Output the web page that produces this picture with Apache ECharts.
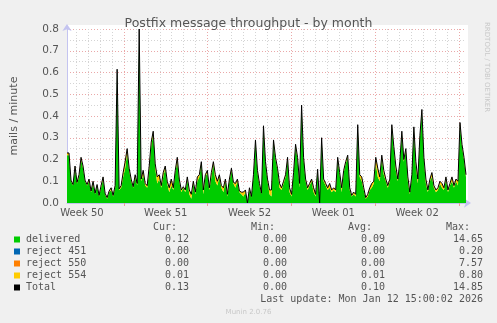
<!DOCTYPE html>
<html>
<head>
<meta charset="utf-8">
<script src="https://cdn.jsdelivr.net/npm/echarts@6/dist/echarts.min.js"></script>
<style>
html,body{margin:0;padding:0;background:#f0f0f0;}
#chart{width:497px;height:323px;}
</style>
</head>
<body>
<div id="chart"></div>
<script>
// ---- data ----
const weekLabels = ['Week 50', 'Week 51', 'Week 52', 'Week 01', 'Week 02'];
const totalHours = 800;        // time span shown, hours
const firstSampleHour = 2;     // hour of first sample
const sampleStepHours = 4;     // hours between samples
const dayLineFirstHour = 18;   // first midnight after start
const weekLineFirstHour = 114; // first Monday 00:00 after start
const weekLabelFirstHour = 30; // middle of Week 50
const yMax = 0.8;
const yInterval = 0.1;

const delivered = [
  0.22,0.22,0.10,0.08,0.16,0.09,0.12,0.20,0.16,0.10,0.08,0.10,0.05,0.09,0.04,0.08,0.03,0.07,0.11,0.04,
  0.02,0.05,0.06,0.03,0.07,0.61,0.06,0.07,0.12,0.16,0.23,0.15,0.10,0.07,0.12,0.08,0.795,0.10,0.13,0.08,
  0.07,0.15,0.26,0.32,0.16,0.09,0.11,0.07,0.12,0.16,0.09,0.05,0.08,0.06,0.14,0.19,0.10,0.05,0.07,0.05,
  0.11,0.04,0.02,0.09,0.04,0.10,0.12,0.18,0.04,0.12,0.14,0.06,0.12,0.18,0.10,0.08,0.12,0.07,0.05,0.10,
  0.03,0.10,0.15,0.09,0.07,0.10,0.05,0.04,0.03,0.05,0.00,0.06,0.025,0.12,0.28,0.14,0.08,0.04,0.345,0.18,
  0.10,0.04,0.03,0.28,0.20,0.15,0.07,0.06,0.09,0.12,0.20,0.05,0.03,0.13,0.26,0.20,0.07,0.44,0.20,0.10,
  0.06,0.08,0.10,0.05,0.03,0.15,0.00,0.29,0.10,0.08,0.06,0.07,0.05,0.06,0.05,0.20,0.13,0.05,0.14,0.18,
  0.21,0.06,0.03,0.04,0.03,0.35,0.12,0.10,0.06,0.02,0.03,0.06,0.07,0.09,0.18,0.12,0.10,0.21,0.13,0.10,
  0.07,0.10,0.35,0.25,0.15,0.10,0.18,0.32,0.19,0.24,0.10,0.04,0.12,0.34,0.17,0.09,0.30,0.42,0.20,0.09,
  0.05,0.10,0.12,0.07,0.05,0.06,0.09,0.07,0.06,0.11,0.05,0.08,0.10,0.07,0.10,0.08,0.36,0.26,0.20,0.12
];
const reject554 = [
  0.01,0.01,0.005,0.005,0.01,0.005,0.01,0.01,0.01,0.005,0.005,0.01,0.005,0.01,0.005,0.005,0.005,0.01,0.01,0.005,
  0.005,0.005,0.01,0.005,0.01,0.005,0.005,0.01,0.02,0.03,0.02,0.01,0.01,0.005,0.01,0.01,0.005,0.01,0.02,0.01,
  0.01,0.02,0.02,0.01,0.02,0.03,0.02,0.01,0.02,0.01,0.01,0.02,0.03,0.01,0.01,0.02,0.01,0.01,0.005,0.01,
  0.01,0.02,0.02,0.01,0.01,0.02,0.01,0.01,0.02,0.01,0.01,0.01,0.02,0.01,0.03,0.02,0.01,0.01,0.02,0.01,
  0.01,0.01,0.01,0.005,0.02,0.01,0.005,0.01,0.02,0.01,0,0.01,0.005,0.01,0.01,0.01,0.01,0.005,0.01,0.01,
  0.01,0.02,0.03,0.01,0.01,0.01,0.02,0.01,0.01,0.01,0.01,0.02,0.01,0.01,0.01,0.01,0.02,0.01,0.01,0.01,
  0.01,0.01,0.01,0.02,0.01,0.005,0,0.01,0.01,0.01,0.01,0.02,0.01,0.01,0.01,0.01,0.01,0.02,0.01,0.01,
  0.01,0.01,0.005,0.01,0.01,0.01,0.01,0.02,0.01,0.005,0.01,0.01,0.02,0.01,0.03,0.04,0.02,0.01,0.02,0.01,
  0.01,0.01,0.01,0.01,0.02,0.01,0.01,0.01,0.01,0.01,0.02,0.01,0.01,0.01,0.02,0.02,0.01,0.01,0.01,0.02,
  0.01,0.01,0.02,0.01,0.01,0.01,0.01,0.02,0.01,0.01,0.01,0.01,0.02,0.01,0.01,0.02,0.01,0.01,0.01,0.01
];

const legendNames  = ['delivered', 'reject 451', 'reject 550', 'reject 554', 'Total'];
const legendColors = ['#00cc00', '#0066b3', '#ff8000', '#ffcc00', '#000000'];
const curVals = ['0.12', '0.00', '0.00', '0.01', '0.13'];
const minVals = ['0.00', '0.00', '0.00', '0.00', '0.00'];
const avgVals = ['0.09', '0.00', '0.00', '0.01', '0.10'];
const maxVals = ['14.65', '0.20', '7.57', '0.80', '14.85'];
const statHeaders = ['Cur:', 'Min:', 'Avg:', 'Max:'];
const lastUpdate = 'Last update: Mon Jan 12 15:00:02 2026';

// ---- build ----
const sampleHours = delivered.map((_, i) => String(firstSampleHour + i * sampleStepHours));
const hourCats = Array.from({length: totalHours + 1}, (_, h) => String(h));
const isDay = h => h >= dayLineFirstHour && (h - dayLineFirstHour) % 24 === 0;
const isWeek = h => h >= weekLineFirstHour && (h - weekLineFirstHour) % 168 === 0;
const isLabel = h => h >= weekLabelFirstHour && (h - weekLabelFirstHour) % 168 === 0;

const txtColor = '#555555';
const mono = '"DejaVu Sans Mono", monospace';
const sans = '"DejaVu Sans", sans-serif';
const axisColor = '#c4c4f0';

const graphic = [];
graphic.push({type:'rect', z:-100, silent:true, shape:{x:67, y:25, width:401, height:178}, style:{fill:'#ffffff'}});
graphic.push({type:'text', x:14, y:116, rotation:Math.PI/2,
  style:{text:'mails / minute', font:'11px ' + sans, fill:txtColor, textAlign:'center', textVerticalAlign:'middle'}});
graphic.push({type:'text', x:487, y:22, rotation:-Math.PI/2,
  style:{text:'RRDTOOL / TOBI OETIKER', font:'7px ' + sans, fill:'#c8c8c8', textAlign:'left', textVerticalAlign:'middle'}});
const headerRight = [177, 275, 372, 470];
const valRight = [189, 287, 385, 483];
statHeaders.forEach((h, k) => graphic.push({type:'text', x:headerRight[k], y:227,
  style:{text:h, font:'10px ' + mono, fill:txtColor, textAlign:'right', textVerticalAlign:'middle'}}));
legendNames.forEach((n, r) => {
  const y = 239.5 + 12 * r;
  graphic.push({type:'rect', shape:{x:14, y:y - 3, width:6, height:6}, style:{fill:legendColors[r]}});
  graphic.push({type:'text', x:26, y:y, style:{text:n, font:'10px ' + mono, fill:txtColor, textVerticalAlign:'middle'}});
  [curVals, minVals, avgVals, maxVals].forEach((arr, k) => graphic.push({type:'text', x:valRight[k], y:y,
    style:{text:arr[r], font:'10px ' + mono, fill:txtColor, textAlign:'right', textVerticalAlign:'middle'}}));
});
graphic.push({type:'text', x:483, y:299.5, style:{text:lastUpdate, font:'10px ' + mono, fill:txtColor, textAlign:'right', textVerticalAlign:'middle'}});
graphic.push({type:'text', x:248.5, y:312, style:{text:'Munin 2.0.76', font:'7px ' + sans, fill:'#c8c8c8', textAlign:'center', textVerticalAlign:'middle'}});

const chart = echarts.init(document.getElementById('chart'), null, {renderer:'canvas'});
chart.setOption({
  animation: false,
  backgroundColor: '#f0f0f0',
  title: {text:'Postfix message throughput - by month', left:'center', top:12,
    textStyle:{fontFamily:sans, fontSize:12.5, fontWeight:'normal', color:txtColor}},
  grid: {left:67, right:31, top:29, bottom:120, containLabel:false},
  xAxis: [
    {type:'category', data:sampleHours, boundaryGap:false, position:'bottom',
     axisLine:{show:true, lineStyle:{color:axisColor, width:1}, symbol:['none','arrow'], symbolSize:[7,7], symbolOffset:[0,5]},
     axisTick:{show:false}, axisLabel:{show:false}, splitLine:{show:false}},
    {type:'category', data:hourCats, boundaryGap:false, position:'bottom',
     axisLine:{show:false}, axisTick:{show:false},
     axisLabel:{show:true, interval:(i)=>isLabel(i), margin:5, fontFamily:sans, fontSize:10, color:txtColor,
       formatter:(v)=>weekLabels[(Number(v) - weekLabelFirstHour) / 168]},
     splitLine:{show:true, interval:(i)=>isDay(i) && !isWeek(i), lineStyle:{color:'#d4d4d4', type:[1,2], width:1}}},
    {type:'category', data:hourCats, boundaryGap:false, position:'bottom',
     axisLine:{show:false}, axisLabel:{show:false},
     axisTick:{show:true, interval:(i)=>isWeek(i), length:3, lineStyle:{color:'#e8a0a0'}},
     splitLine:{show:true, interval:(i)=>isWeek(i), lineStyle:{color:'#eaa8a8', type:[1,2], width:1}}}
  ],
  yAxis: {type:'value', min:0, max:yMax, interval:yInterval,
    axisLine:{show:true, lineStyle:{color:axisColor, width:1}, symbol:['none','arrow'], symbolSize:[7,7], symbolOffset:[0,5]},
    axisTick:{show:false},
    axisLabel:{margin:8, fontFamily:sans, fontSize:10.5, color:txtColor, formatter:(v)=>v.toFixed(1)},
    splitLine:{show:true, lineStyle:{color:'#eaa8a8', type:[1,2], width:1}},
    minorTick:{show:false, splitNumber:2},
    minorSplitLine:{show:true, lineStyle:{color:'#d4d4d4', type:[1,2], width:1}}},
  series: [
    {type:'line', name:'delivered', xAxisIndex:0, stack:'s', data:delivered, symbol:'none',
     lineStyle:{width:0}, areaStyle:{color:'#00cc00', opacity:1}, itemStyle:{color:'#00cc00'}, z:3},
    {type:'line', name:'reject 554', xAxisIndex:0, stack:'s', data:reject554, symbol:'none',
     lineStyle:{width:1, color:'#000000'}, areaStyle:{color:'#ffcc00', opacity:1}, itemStyle:{color:'#ffcc00'}, z:4}
  ],
  graphic: graphic
});
</script>
</body>
</html>
